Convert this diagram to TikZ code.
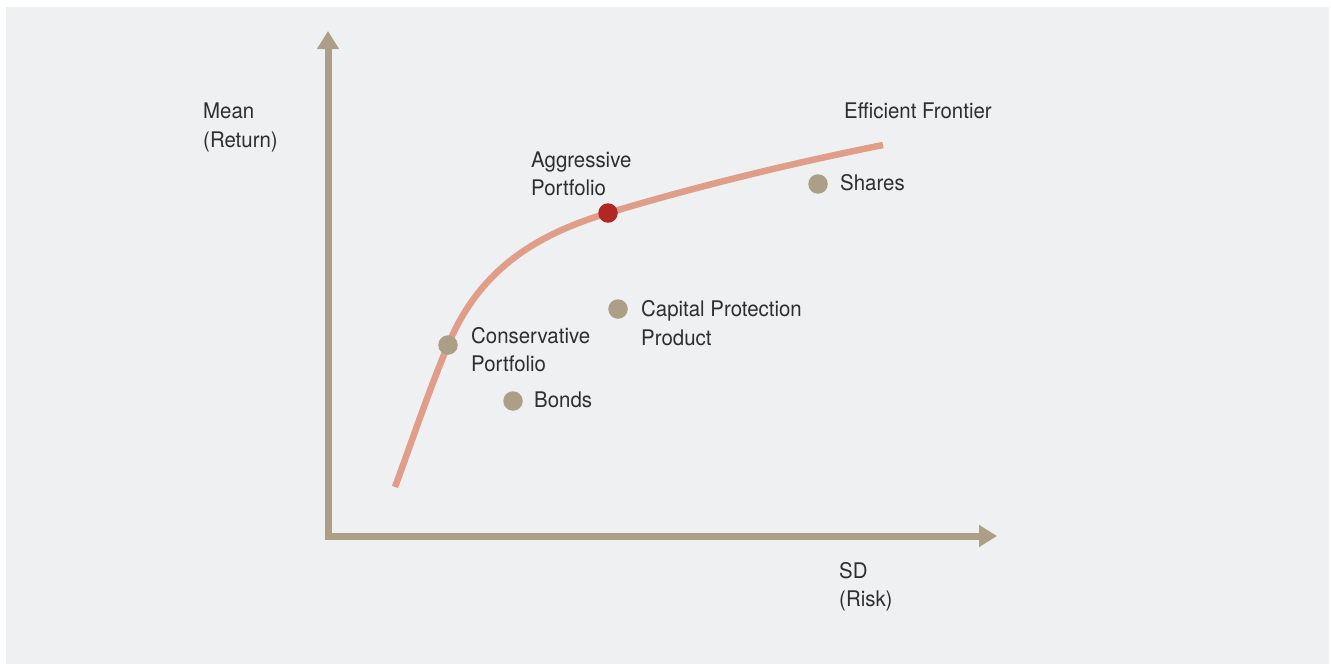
\documentclass[tikz,border=0pt]{standalone}
\usepackage{fontspec}
\setmainfont{TeX Gyre Heros}[FakeStretch=0.95]
\usetikzlibrary{arrows.meta}
\definecolor{bgc}{HTML}{EFF0F2}
\definecolor{axisc}{HTML}{AD9E87}
\definecolor{curvec}{HTML}{E09E8A}
\definecolor{redc}{HTML}{AF2824}
\definecolor{dotc}{HTML}{AB9F88}
\definecolor{txtc}{HTML}{2E2E2E}
\tikzset{
  lbl/.style={anchor=north west, inner sep=0pt, align=left, text=txtc,
    font=\fontsize{21.5}{28.5}\selectfont},
  dot/.style={circle, fill=dotc, minimum size=19.5pt, inner sep=0pt},
  reddot/.style={circle, fill=redc, minimum size=19.5pt, inner sep=0pt},
  axis/.style={draw=axisc, line width=7pt, line join=miter,
    {Triangle[length=18pt,width=21pt]}-{Triangle[length=18pt,width=21pt]}},
  frontier/.style={draw=curvec, line width=6.5pt}
}
\begin{document}
\begin{tikzpicture}[x=1pt,y=-1pt]
\useasboundingbox (0,0) rectangle (1331,664);
\fill[white] (0,0) rectangle (1331,664);
\fill[bgc] (6,7) rectangle (1329,664);
% axes
\coordinate (ytip) at (328,31);
\coordinate (origin) at (328,536);
\coordinate (xtip) at (997,536);
\draw[axis] (ytip) -- (origin) -- (xtip);
% frontier
\coordinate (fstart) at (395,487);
\coordinate (fcons) at (448,345);
\coordinate (faggr) at (608,213);
\coordinate (fend) at (883,145);
\draw[frontier] (fstart) .. controls (412.4,440) and (428.3,392) .. (fcons)
  .. controls (477.4,275) and (528,237) .. (faggr)
  .. controls (698,186) and (793,163) .. (fend);
% dots
\node[dot] (cons) at (fcons) {};
\node[reddot] (aggr) at (faggr) {};
\node[dot] (shares) at (818,184) {};
\node[dot] (cpp) at (618,309) {};
\node[dot] (bonds) at (513,401) {};
% labels
\node[lbl] (mean) at (203,103) {Mean\\(Return)};
\node[lbl] (eff) at (844,103) {Efficient Frontier};
\node[lbl] (aggrl) at (531,151.5) {Aggressive\\Portfolio};
\node[lbl] (sharesl) at (840,174) {Shares};
\node[lbl] (cppl) at (641,300.5) {Capital Protection\\Product};
\node[lbl] (consl) at (471,327) {Conservative\\Portfolio};
\node[lbl] (bondsl) at (534,392) {Bonds};
\node[lbl] (sd) at (839,562) {SD\\(Risk)};
\end{tikzpicture}
\end{document}
